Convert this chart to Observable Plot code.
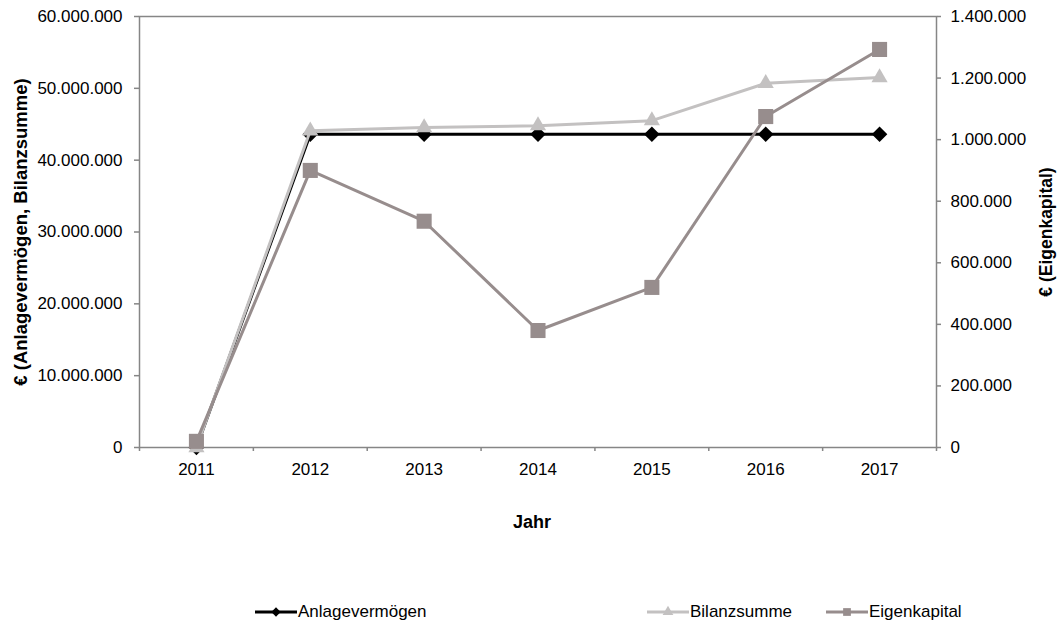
<!DOCTYPE html>
<html>
<head>
<meta charset="utf-8">
<script src="https://cdn.jsdelivr.net/npm/d3@7"></script>
<script src="https://cdn.jsdelivr.net/npm/@observablehq/plot@0.6"></script>
<style>
  body { margin: 0; background: #fff; font-family: "Liberation Sans", Arial, sans-serif; }
  #chart { width: 1059px; }
  #legend { position: relative; width: 1059px; height: 49px; }
  .item { position: absolute; top: 22px; display: flex; align-items: center; font-size: 17px; color: #000; }
  .item svg { display: block; }
</style>
</head>
<body>
<div id="chart"></div>
<div id="legend"></div>
<script>
// Jahresabschluss-Kennzahlen 2011–2017
const years = [2011, 2012, 2013, 2014, 2015, 2016, 2017];
const anlagevermoegen = [0, 43600000, 43600000, 43600000, 43600000, 43600000, 43600000];
const bilanzsumme = [0, 44100000, 44550000, 44800000, 45500000, 50700000, 51500000];
const eigenkapital = [20000, 900000, 735000, 380000, 520000, 1075000, 1293000];

const leftTicks = [0, 10000000, 20000000, 30000000, 40000000, 50000000, 60000000];
const rightTicks = [0, 200000, 400000, 600000, 800000, 1000000, 1200000, 1400000];

const seriesNames = ["Anlagevermögen", "Bilanzsumme", "Eigenkapital"];
const seriesColors = ["#000000", "#c3c1c1", "#978d8d"];
const seriesSymbols = ["diamond2", "triangle", "square"];

const leftMax = 60000000;
const rightMax = 1400000;
const k = leftMax / rightMax; // Sekundärachse -> Primärachse

const de = d3.formatLocale({decimal: ",", thousands: ".", grouping: [3], currency: ["", " €"]});
const fmt = de.format(",.0f");

const rows = years.map((year, i) => ({
  year,
  anlage: anlagevermoegen[i],
  bilanz: bilanzsumme[i],
  eigen: eigenkapital[i] * k
}));

const bounds = d3.range(years[0] - 0.5, years[years.length - 1] + 1, 1);
const axisGray = "#868686";

const chart = Plot.plot({
  width: 1059,
  height: 580,
  marginLeft: 139,
  marginRight: 123,
  marginTop: 16,
  marginBottom: 133,
  x: {type: "linear", domain: [bounds[0], bounds[bounds.length - 1]]},
  y: {domain: [0, leftMax]},
  style: {fontFamily: "'Liberation Sans', Arial, sans-serif", fontSize: "17px", color: "#000", background: "#fff", overflow: "visible"},
  marks: [
    Plot.frame({stroke: axisGray, strokeWidth: 1.5}),
    Plot.axisY({ticks: leftTicks, tickFormat: fmt, tickSize: 5, tickPadding: 12, stroke: axisGray, strokeWidth: 1.5, fill: "#000", fontSize: 17, label: null}),
    Plot.axisY({anchor: "right", ticks: rightTicks.map(v => v * k), tickFormat: v => fmt(Math.round(v / k)), tickSize: 4, tickPadding: 10, stroke: axisGray, strokeWidth: 1.5, fill: "#000", fontSize: 17, label: null}),
    Plot.axisX({ticks: bounds, tickFormat: () => "", tickSize: 4, stroke: axisGray, strokeWidth: 1.5, label: null}),
    Plot.axisX({ticks: years, tickFormat: d => String(d), tickSize: 0, tickPadding: 15, fill: "#000", fontSize: 17, label: null}),

    Plot.line(rows, {x: "year", y: "anlage", stroke: seriesColors[0], strokeWidth: 3}),
    Plot.dot(rows, {x: "year", y: "anlage", symbol: seriesSymbols[0], r: 7, fill: seriesColors[0], stroke: "none"}),
    Plot.line(rows, {x: "year", y: "bilanz", stroke: seriesColors[1], strokeWidth: 3}),
    Plot.dot(rows, {x: "year", y: "bilanz", symbol: seriesSymbols[1], r: 6, fill: seriesColors[1], stroke: "none"}),
    Plot.line(rows, {x: "year", y: "eigen", stroke: seriesColors[2], strokeWidth: 3}),
    Plot.dot(rows, {x: "year", y: "eigen", symbol: seriesSymbols[2], r: 8.5, fill: seriesColors[2], stroke: "none"}),

    Plot.text(["€ (Anlagevermögen, Bilanzsumme)"], {frameAnchor: "left", dx: -118, rotate: -90, fontWeight: "bold", fontSize: 18.5, fill: "#000", textAnchor: "middle", lineAnchor: "middle"}),
    Plot.text(["€ (Eigenkapital)"], {frameAnchor: "right", dx: 110, rotate: -90, fontWeight: "bold", fontSize: 17.5, fill: "#000", textAnchor: "middle", lineAnchor: "middle"}),
    Plot.text(["Jahr"], {frameAnchor: "bottom", dx: -6, dy: 75, fontWeight: "bold", fontSize: 18, fill: "#000", lineAnchor: "middle"})
  ]
});
document.getElementById("chart").append(chart);

// Legende unter dem Diagramm
const legendLeft = [255, 647, 826];
const legendSymbolSize = [55, 50, 60];
const legend = d3.select("#legend");
seriesNames.forEach((name, i) => {
  const item = legend.append("div").attr("class", "item").style("left", legendLeft[i] + "px");
  const svg = item.append("svg").attr("width", 42).attr("height", 14);
  svg.append("line").attr("x1", 0).attr("x2", 42).attr("y1", 7).attr("y2", 7)
    .attr("stroke", seriesColors[i]).attr("stroke-width", 3);
  const sym = {diamond2: d3.symbolDiamond2, triangle: d3.symbolTriangle, square: d3.symbolSquare}[seriesSymbols[i]];
  svg.append("path").attr("transform", "translate(21,7)")
    .attr("d", d3.symbol(sym, legendSymbolSize[i])()).attr("fill", seriesColors[i]);
  item.append("span").text(name).style("margin-left", "1px");
});
</script>
</body>
</html>
